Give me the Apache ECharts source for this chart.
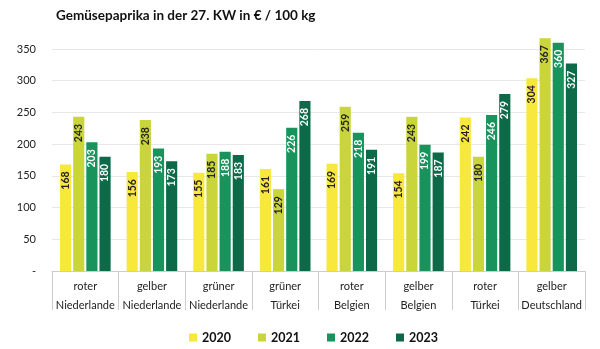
<!DOCTYPE html>
<html><head><meta charset="utf-8">
<script src="https://cdn.jsdelivr.net/npm/echarts@6/dist/echarts.min.js"></script>
<style>html,body{margin:0;padding:0;background:#fff}#c{width:600px;height:349px}</style>
</head><body><div id="c"></div>
<script>
const categories = ['roter\nNiederlande','gelber\nNiederlande','grüner\nNiederlande','grüner\nTürkei','roter\nBelgien','gelber\nBelgien','roter\nTürkei','gelber\nDeutschland'];
const years = ['2020','2021','2022','2023'];
const v2020 = [168,156,155,161,169,154,242,304];
const v2021 = [243,238,185,129,259,243,180,367];
const v2022 = [203,193,188,226,218,199,246,360];
const v2023 = [180,173,183,268,191,187,279,327];
const yTicks = [0,50,100,150,200,250,300,350];
const colors = ['#f8e73c','#c9d53a','#17935b','#0c6a49'];
const labelColors = ['#222','#222','#fff','#fff'];
const allValues = [v2020,v2021,v2022,v2023];
const FONT = 'Lato';
const chart = echarts.init(document.getElementById('c'));
chart.setOption({
  animation:false,
  title:{text:'Gemüsepaprika in der 27. KW in € / 100 kg',left:51,top:4,textStyle:{fontFamily:FONT,fontSize:13.5,fontWeight:'bold',color:'#111'}},
  legend:{top:326,left:184,itemWidth:8,itemHeight:8,itemGap:27,icon:'rect',textStyle:{fontFamily:FONT,fontSize:12.5,fontWeight:'bold',color:'#111'},data:years},
  grid:{left:52,right:15,top:49,bottom:78},
  xAxis:{type:'category',data:categories,
    axisLine:{lineStyle:{color:'#ccc'}},
    axisTick:{show:true,length:39,interval:0,lineStyle:{color:'#ccc'}},
    axisLabel:{interval:0,fontFamily:FONT,fontSize:11,color:'#222',lineHeight:19,margin:6}},
  yAxis:{type:'value',min:0,max:yTicks[yTicks.length-1],interval:50,
    axisLine:{show:false},axisTick:{show:false},
    splitLine:{lineStyle:{color:'#e8e8e8'}},
    axisLabel:{fontFamily:FONT,fontSize:11,color:'#222',margin:16,formatter:v=>v===0?'-':String(v)}},
  series: years.map((y,i)=>({
    name:y,type:'bar',data:allValues[i],clip:false,
    barGap:'18%',barCategoryGap:'24%',
    itemStyle:{color:colors[i]},
    label:{show:true,position:'insideTop',rotate:90,align:'right',verticalAlign:'middle',distance:7,
      fontFamily:FONT,fontSize:10.5,fontWeight:'bold',color:labelColors[i]}
  }))
});
</script></body></html>
